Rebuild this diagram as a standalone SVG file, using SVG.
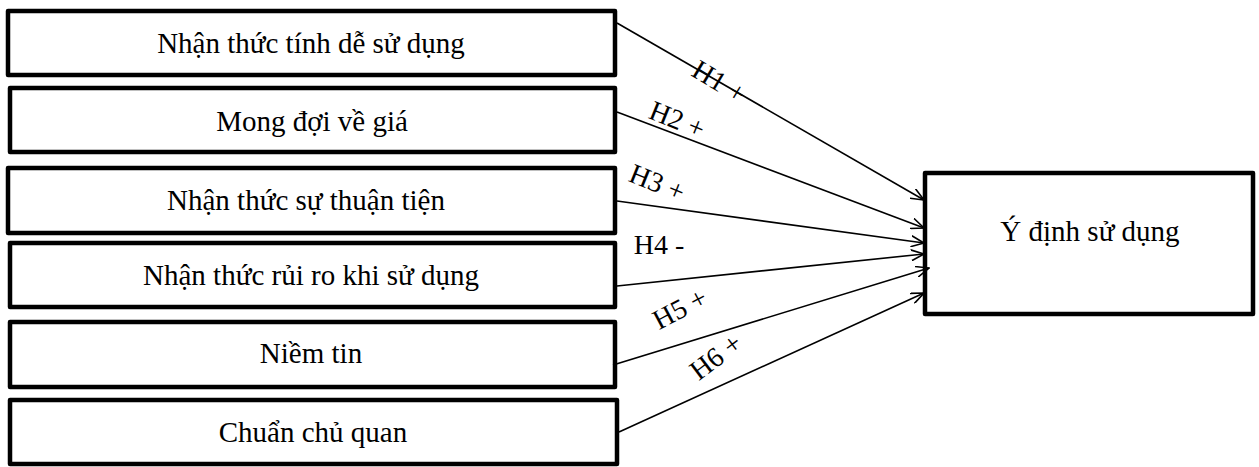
<svg xmlns="http://www.w3.org/2000/svg" width="1259" height="467" viewBox="0 0 1259 467">
<style>
.box{fill:#fff;stroke:#000;stroke-width:4.5;stroke-linejoin:round}
.t{font-family:"Liberation Serif","Times New Roman",serif;font-size:29px;fill:#000;text-anchor:middle}
.lbl{font-family:"Liberation Serif","Times New Roman",serif;font-size:28px;fill:#000;text-anchor:middle}
.c{stroke:#000;stroke-width:1.6;fill:none;marker-end:url(#arr)}
</style>
<defs>
<marker id="arr" viewBox="0 0 14 12" refX="13" refY="6" markerWidth="14" markerHeight="12" markerUnits="userSpaceOnUse" orient="auto">
<path d="M0,0.5 L13,6 L0,11.5" fill="none" stroke="#000" stroke-width="1.6"/>
</marker>
</defs>
<rect width="1259" height="467" fill="#fff"/>
<g id="n1"><rect class="box" x="8" y="11" width="607" height="64"/><text class="t" x="311" y="53">Nhận thức tính dễ sử dụng</text></g>
<g id="n2"><rect class="box" x="10" y="88" width="605" height="64"/><text class="t" x="312" y="131">Mong đợi về giá</text></g>
<g id="n3"><rect class="box" x="8" y="168" width="607" height="65"/><text class="t" x="306" y="210">Nhận thức sự thuận tiện</text></g>
<g id="n4"><rect class="box" x="10" y="243" width="605" height="64"/><text class="t" x="311" y="285">Nhận thức rủi ro khi sử dụng</text></g>
<g id="n5"><rect class="box" x="10" y="322" width="605" height="65"/><text class="t" x="311" y="363">Niềm tin</text></g>
<g id="n6"><rect class="box" x="10" y="400" width="607" height="64"/><text class="t" x="313" y="442">Chuẩn chủ quan</text></g>
<g id="target"><rect class="box" x="925" y="173" width="328" height="141"/><text class="t" x="1090" y="241">Ý định sử dụng</text></g>
<g id="connectors">
<line class="c" x1="617" y1="23" x2="924" y2="200"/>
<line class="c" x1="617" y1="112" x2="924" y2="228"/>
<line class="c" x1="617" y1="201" x2="924" y2="243"/>
<line class="c" x1="617" y1="286" x2="924" y2="254"/>
<line class="c" x1="613" y1="365" x2="929" y2="268"/>
<line class="c" x1="619" y1="432" x2="924" y2="293"/>
<g transform="translate(719,82) rotate(31)"><text class="lbl" x="0" y="9">H1 +</text></g>
<g transform="translate(677,120) rotate(22)"><text class="lbl" x="0" y="9">H2 +</text></g>
<g transform="translate(657,183) rotate(22)"><text class="lbl" x="0" y="9">H3 +</text></g>
<text class="lbl" x="659" y="254">H4 -</text>
<g transform="translate(680,309) rotate(-28)"><text class="lbl" x="0" y="9">H5 +</text></g>
<g transform="translate(716,357) rotate(-37)"><text class="lbl" x="0" y="9">H6 +</text></g>
</g>
</svg>
